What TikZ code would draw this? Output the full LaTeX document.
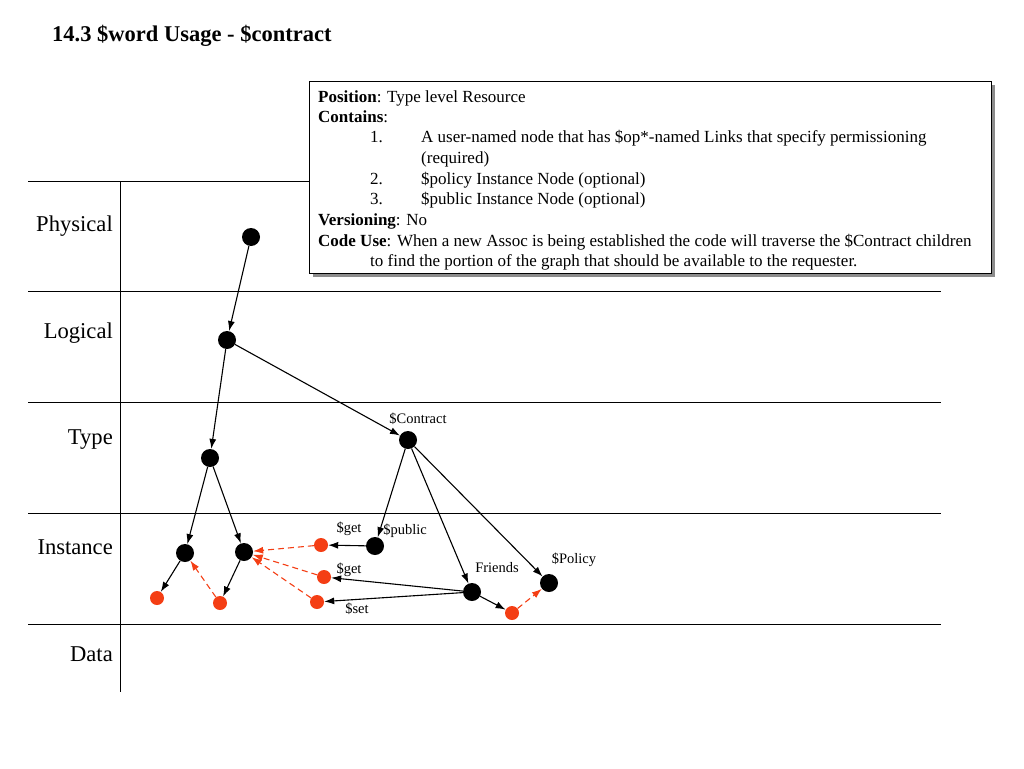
\documentclass[tikz,border=0pt]{standalone}
\usepackage{fontspec}
\setmainfont{Liberation Serif}
\usetikzlibrary{arrows.meta, positioning}
\definecolor{rosso}{RGB}{244,62,20}

\begin{document}
\begin{tikzpicture}[
  x=1pt, y=-1pt,
  punto/.style={circle, fill=black, minimum size=18pt, inner sep=0pt},
  puntor/.style={circle, fill=rosso, minimum size=14pt, inner sep=0pt},
  livello/.style={anchor=east, inner sep=0pt, font=\fontsize{22.6}{26}\selectfont},
  etichetta/.style={inner sep=0pt, font=\fontsize{14.5}{16}\selectfont},
  riga/.style={anchor=base west, inner sep=0pt, font=\fontsize{17}{20}\selectfont},
  freccia/.style={draw=black, line width=1.1pt, -{Latex[length=10pt,width=7pt]}},
  frecciar/.style={draw=rosso, line width=1.1pt, dash pattern=on 6pt off 4pt, -{Latex[length=10pt,width=7pt]}}
]
\useasboundingbox (0,0) rectangle (1024,768);

% ---- titolo ------------------------------------------------------------
\node[anchor=west, inner sep=0pt, font=\fontsize{22.5}{26}\selectfont\bfseries] (titolo) at (52,36)
  {14.3 \$word Usage - \$contract};

% ---- griglia dei livelli -----------------------------------------------
\foreach \y in {181,291,402,513,624} {
  \draw[line width=0.9pt] (28,\y) -- (941,\y);
}
\draw[line width=0.9pt] (120,181) -- (120,692);

\node[livello] (physical) at (113,226) {Physical};
\node[livello] (logical)  at (113,333) {Logical};
\node[livello] (type)     at (113,440) {Type};
\node[livello] (instance) at (113,547) {Instance};
\node[livello] (data)     at (113,654) {Data};

% ---- riquadro descrittivo ---------------------------------------------
\fill[black!45] (313,85) rectangle (995,277);
\draw[line width=0.9pt, fill=white] (309,81) rectangle (991,273);

\node[riga] (r1) at (318,102) {\textbf{Position}: Type level Resource};
\node[riga] (r2) at (318,122) {\textbf{Contains}:};
\node[riga] (r3) at (370,142) {1.};
\node[riga] (r3b) at (421,142) {A user-named node that has \$op*-named Links that specify permissioning};
\node[riga] (r4) at (421,163) {(required)};
\node[riga] (r5) at (370,184) {2.};
\node[riga] (r5b) at (421,184) {\$policy Instance Node (optional)};
\node[riga] (r6) at (370,204) {3.};
\node[riga] (r6b) at (421,204) {\$public Instance Node (optional)};
\node[riga] (r7) at (318,225) {\textbf{Versioning}: No};
\node[riga] (r8) at (318,246) {\textbf{Code Use}: When a new Assoc is being established the code will traverse the \$Contract children};
\node[riga] (r9) at (370,266) {to find the portion of the graph that should be available to the requester.};

%==============================================================
% Nodi
%==============================================================
\node[punto] (fis) at (251,237) {};
\node[punto] (log) at (227,340) {};
\node[punto] (tip) at (210,458) {};
\node[punto] (contratto) at (408,440) {};
\node[punto] (ist1) at (185,553) {};
\node[punto] (ist2) at (244,552) {};
\node[punto] (pubblico) at (375,546) {};
\node[punto] (amici) at (472,592) {};
\node[punto] (politica) at (549,583) {};

\node[puntor] (rs1) at (157,598) {};
\node[puntor] (rs2) at (220,603) {};
\node[puntor] (get1) at (321,545) {};
\node[puntor] (get2) at (324,577) {};
\node[puntor] (set) at (317,602) {};
\node[puntor] (rs3) at (512,613) {};

% ---- etichette ----------------------------------------------------------
\node[etichetta] (lcontr) at (418,419) {\$Contract};
\node[etichetta] (lpub) at (405,531) {\$public};
\node[etichetta] (lami) at (497,568) {Friends};
\node[etichetta] (lpol) at (574,560) {\$Policy};
\node[etichetta] (lget1) at (349,529) {\$get};
\node[etichetta] (lget2) at (349,570) {\$get};
\node[etichetta] (lset) at (357,609) {\$set};

%==============================================================
% Collegamenti
%==============================================================
\draw[freccia] (fis) -- (log);
\draw[freccia] (log) -- (tip);
\draw[freccia] (log) -- (contratto);
\draw[freccia] (tip) -- (ist1);
\draw[freccia] (tip) -- (ist2);
\draw[freccia] (contratto) -- (pubblico);
\draw[freccia] (contratto) -- (amici);
\draw[freccia] (contratto) -- (politica);
\draw[freccia] (ist1) -- (rs1);
\draw[freccia] (ist2) -- (rs2);
\draw[freccia] (pubblico) -- (get1);
\draw[freccia] (amici) -- (get2);
\draw[freccia] (amici) -- (set);
\draw[freccia] (amici) -- (rs3);

\draw[frecciar] (get1) -- (ist2);
\draw[frecciar] (get2) -- (ist2);
\draw[frecciar] (set) -- (ist2);
\draw[frecciar] (rs2) -- (ist1);
\draw[frecciar] (rs3) -- (politica);

\end{tikzpicture}
\end{document}
